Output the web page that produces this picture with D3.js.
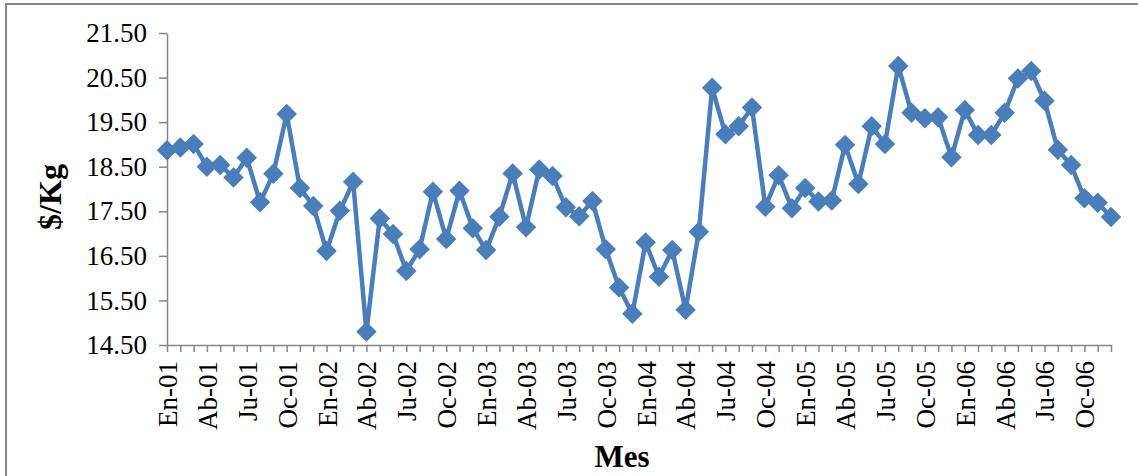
<!DOCTYPE html>
<html>
<head>
<meta charset="utf-8">
<script src="https://cdn.jsdelivr.net/npm/d3@7"></script>
<style>
  body { margin: 0; background: #fff; }
  svg { display: block; font-family: 'Liberation Serif', 'Times New Roman', serif; }
</style>
</head>
<body>
<div class="chart"></div>
<script>
const monthNames = ['En', 'Feb', 'Mar', 'Ab', 'May', 'Jun', 'Ju', 'Ag', 'Sep', 'Oc', 'Nov', 'Dic'];
const years = ['01', '02', '03', '04', '05', '06'];
const labelMonths = ['En', 'Ab', 'Ju', 'Oc'];
const yTicks = [14.5, 15.5, 16.5, 17.5, 18.5, 19.5, 20.5, 21.5];

const prices = [
  18.87, 18.93, 19.01, 18.50, 18.54, 18.26, 18.70, 17.70, 18.34, 19.68, 18.02, 17.62,
  16.61, 17.51, 18.16, 14.80, 17.34, 16.99, 16.16, 16.65, 17.94, 16.88, 17.96, 17.12,
  16.63, 17.38, 18.35, 17.14, 18.44, 18.29, 17.59, 17.39, 17.73, 16.65, 15.79, 15.20,
  16.80, 16.03, 16.63, 15.29, 17.04, 20.27, 19.23, 19.41, 19.83, 17.60, 18.31, 17.57,
  18.02, 17.72, 17.74, 18.99, 18.11, 19.41, 19.01, 20.76, 19.71, 19.59, 19.61, 18.71,
  19.77, 19.21, 19.21, 19.71, 20.48, 20.65, 19.98, 18.88, 18.54, 17.79, 17.69, 17.37
];

const categories = [];
years.forEach(yr => monthNames.forEach(m => categories.push(`${m}-${yr}`)));
const data = categories.map((c, i) => ({ cat: c, value: prices[i] }));

const width = 1138;
const height = 476;
const blue = '#4a7ebb';
const gray = '#868686';
const serif = "'Liberation Serif', 'Times New Roman', serif";

const svg = d3.select('.chart')
  .append('svg')
    .attr('width', width)
    .attr('height', height);

// outer chart border (right and bottom edges fall outside the picture)
svg.append('rect')
  .attr('x', 6)
  .attr('y', 4)
  .attr('width', width + 10)
  .attr('height', height + 10)
  .attr('fill', '#fff')
  .attr('stroke', gray)
  .attr('stroke-width', 2);

const x = d3.scalePoint()
  .domain(categories)
  .range([167, 1111]);

const y = d3.scaleLinear()
  .domain([14.5, 21.5])
  .range([345, 33]);

// y axis
const yAxis = svg.append('g')
  .attr('transform', 'translate(167,0)')
  .call(d3.axisLeft(y)
    .tickValues(yTicks)
    .tickFormat(d3.format('.2f'))
    .tickSize(8)
    .tickSizeOuter(0)
    .tickPadding(12));

yAxis.selectAll('line, path').attr('stroke', gray).attr('stroke-width', 1.5);
yAxis.selectAll('text')
  .attr('fill', '#000')
  .style('font-size', '27px')
  .style('font-family', serif);

// x axis
const xAxis = svg.append('g')
  .attr('transform', 'translate(0,345)')
  .call(d3.axisBottom(x)
    .tickSize(7)
    .tickSizeOuter(0)
    .tickFormat(d => labelMonths.includes(d.split('-')[0]) ? d : ''));

xAxis.selectAll('line, path').attr('stroke', gray).attr('stroke-width', 1.5);
xAxis.selectAll('text')
  .attr('fill', '#000')
  .style('font-size', '27px')
  .style('font-family', serif)
  .attr('text-anchor', 'end')
  .attr('transform', 'rotate(-90)')
  .attr('x', -16)
  .attr('y', 0)
  .attr('dy', '0.35em');

// line
const line = d3.line()
  .x(d => x(d.cat))
  .y(d => y(d.value));

svg.append('path')
  .datum(data)
  .attr('fill', 'none')
  .attr('stroke', blue)
  .attr('stroke-width', 4.5)
  .attr('stroke-linejoin', 'round')
  .attr('d', line);

// diamond markers
const diamond = d3.symbol().type(d3.symbolSquare).size(210);
svg.append('g')
  .selectAll('path')
  .data(data)
  .join('path')
    .attr('d', diamond)
    .attr('fill', blue)
    .attr('transform', d => `translate(${x(d.cat)},${y(d.value)}) rotate(45)`);

// axis titles
svg.append('text')
  .attr('transform', 'translate(61,197) rotate(-90)')
  .attr('text-anchor', 'middle')
  .style('font-size', '32px')
  .style('font-weight', 'bold')
  .text('$/Kg');

svg.append('text')
  .attr('x', 622)
  .attr('y', 467)
  .attr('text-anchor', 'middle')
  .style('font-size', '31px')
  .style('font-weight', 'bold')
  .text('Mes');
</script>
</body>
</html>
